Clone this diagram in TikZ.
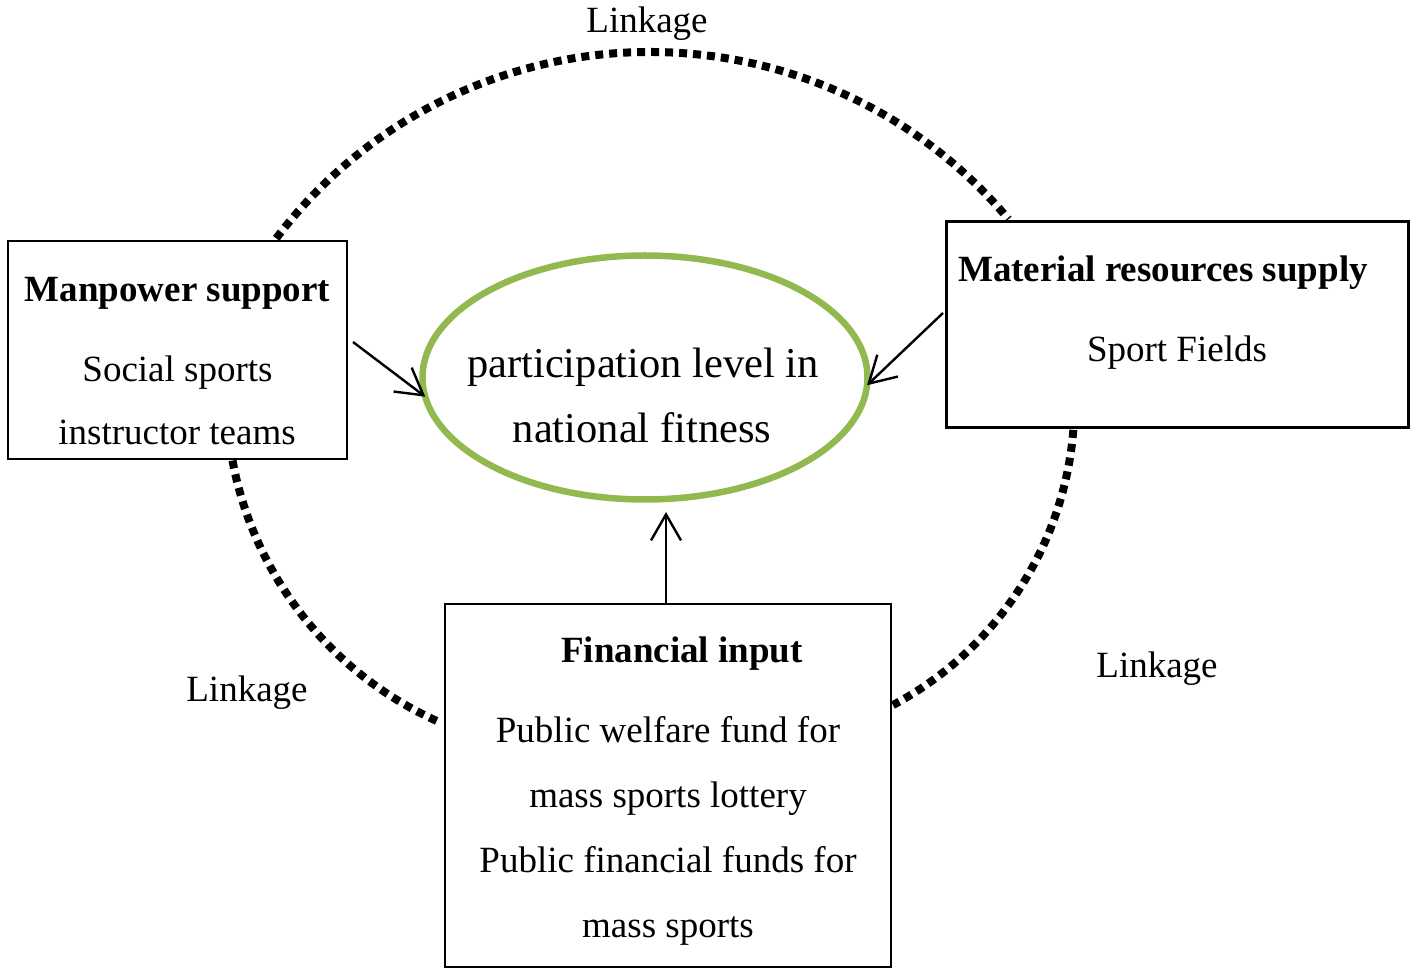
\documentclass[tikz,border=0pt]{standalone}
\usepackage{fontspec}
\setmainfont{Liberation Serif}
\usetikzlibrary{shapes.geometric,arrows.meta,calc}
\definecolor{ellgreen}{RGB}{146,185,80}
\begin{document}
\begin{tikzpicture}[x=1pt,y=1pt,
  box/.style={draw, rectangle, line width=2.8pt, inner sep=0pt},
  txt/.style={inner sep=0pt, anchor=base, font=\fontsize{37}{44}\selectfont},
  btxt/.style={txt, font=\fontsize{37}{44}\selectfont\bfseries},
  bigtxt/.style={inner sep=0pt, anchor=base, font=\fontsize{42.5}{50}\selectfont},
  arr/.style={line width=2.4pt, -{Straight Barb[length=26pt,width=30pt]}},
  linkage/.style={line width=8pt, dash pattern=on 8pt off 6pt, line cap=butt}]
\useasboundingbox[fill=white] (0,0) rectangle (1417,978);

% boxes
\node[box, minimum width=339pt, minimum height=218pt] (man) at (177.5,628) {};
\node[box, minimum width=462pt, minimum height=206pt] (mat) at (1177.5,653.5) {};
\node[box, minimum width=446pt, minimum height=363pt] (fin) at (668,192.5) {};
\node[ellipse, draw=ellgreen, line width=6.5pt, outer sep=0pt, inner sep=0pt,
      minimum width=445pt, minimum height=244pt] (ell) at (645,600.5) {};

% linkage arcs
\coordinate (tA) at ($(650,458)+(143:468)$);
\draw[linkage] (tA) arc[start angle=143, end angle=40, radius=468pt];
\coordinate (lA) at ($(583.5,582.5)+(190.5:357)$);
\draw[linkage] (lA) arc[start angle=190.5, end angle=246, radius=357pt];
\coordinate (rA) at ($(732.4,574.9)+(-4.5:342)$);
\draw[linkage] (rA) arc[start angle=-4.5, end angle=-62, radius=342pt];

% arrows
\coordinate (la) at (353,636);
\draw[arr] (la) -- (ell.185);
\coordinate (ra) at (943,665);
\draw[arr] (ra) -- (ell.-2.4);
\coordinate (ba) at (666,466);
\draw[arr] (fin.north -| ba) -- (ba);

% texts
\node[bigtxt] (e1) at (643,600) {participation level in};
\node[bigtxt] (e2) at (642,535) {national fitness};

\node[btxt] (m1) at (177.5,676) {Manpower support};
\node[txt] (m2) at (177.5,596) {Social sports};
\node[txt] (m3) at (177,533) {instructor teams};

\node[btxt] (r1) at (1163,696) {Material resources supply};
\node[txt] (r2) at (1177,616) {Sport Fields};

\node[btxt] (f1) at (682,315) {Financial input};
\node[txt] (f2) at (668,235) {Public welfare fund for};
\node[txt] (f3) at (668,170) {mass sports lottery};
\node[txt] (f4) at (668,106) {Public financial funds for};
\node[txt] (f5) at (668,41) {mass sports};

\node[txt] (k1) at (647,945) {Linkage};
\node[txt] (k2) at (247,276) {Linkage};
\node[txt] (k3) at (1157,300) {Linkage};
\end{tikzpicture}
\end{document}
